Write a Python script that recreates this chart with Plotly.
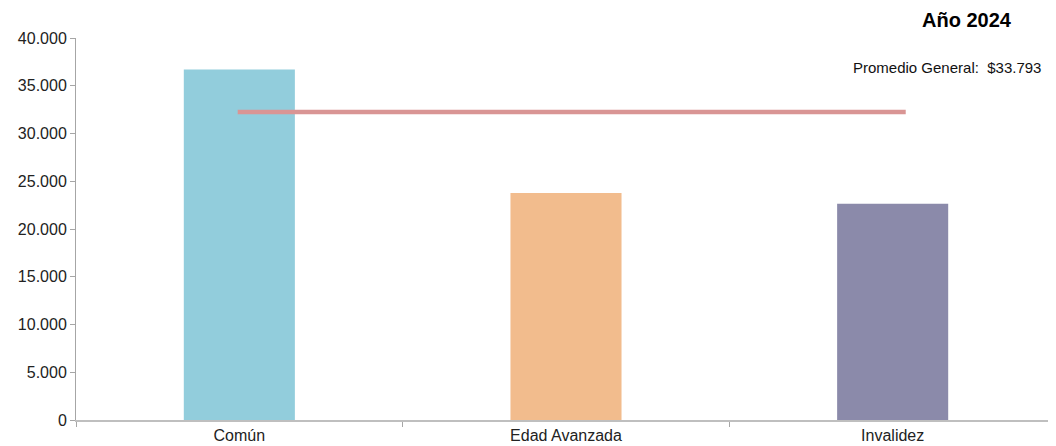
import plotly.graph_objects as go

categories = ["Común", "Edad Avanzada", "Invalidez"]
values = [36700, 23780, 22650]
bar_colors = ["#92CDDC", "#F2BC8D", "#8B8AAA"]

avg_value = 32250
avg_line_x = [-0.005, 2.04]
avg_label = "Promedio General:  $33.793"
title_text = "Año 2024"

y_ticks = [0, 5000, 10000, 15000, 20000, 25000, 30000, 35000, 40000]

fig = go.Figure()
fig.add_trace(go.Bar(
    x=categories, y=values, marker=dict(color=bar_colors, line=dict(width=0)),
    width=0.34, showlegend=False, hoverinfo="x+y",
))
fig.add_trace(go.Scatter(
    x=avg_line_x, y=[avg_value, avg_value], xaxis="x2", mode="lines",
    line=dict(color="#D99594", width=4.5), showlegend=False,
))

fig.update_layout(
    width=1048, height=438,
    margin=dict(l=68, r=0, t=30, b=26),
    paper_bgcolor="white", plot_bgcolor="white",
    separators=",.",
    font=dict(family="Liberation Sans, Arial, sans-serif", size=16, color="#222222"),
    xaxis=dict(
        type="category", range=[-0.5, 2.5], tickson="boundaries",
        ticks="outside", ticklen=5, tickcolor="#A6A6A6",
        showline=True, linecolor="#BFBFBF", linewidth=2,
        showgrid=False, zeroline=False, tickfont=dict(size=16),
    ),
    xaxis2=dict(overlaying="x", range=[-0.5, 2.5], visible=False),
    yaxis=dict(
        range=[0, 40000], tickvals=y_ticks, tickformat=",.0f",
        ticks="outside", ticklen=5, tickcolor="#A6A6A6",
        showline=True, linecolor="#A6A6A6", linewidth=1,
        showgrid=False, zeroline=False, tickfont=dict(size=16),
    ),
    annotations=[
        dict(text="<b>" + title_text + "</b>", xref="paper", yref="paper",
             x=0.909, y=1.0, yshift=18, xanchor="center", yanchor="middle",
             showarrow=False, font=dict(size=20, color="#000000")),
        dict(text=avg_label, xref="paper", yref="paper",
             x=0.987, y=1.0, yshift=-29, xanchor="right", yanchor="middle",
             showarrow=False, font=dict(size=15, color="#111111")),
    ],
)

fig.write_html("out.html")
